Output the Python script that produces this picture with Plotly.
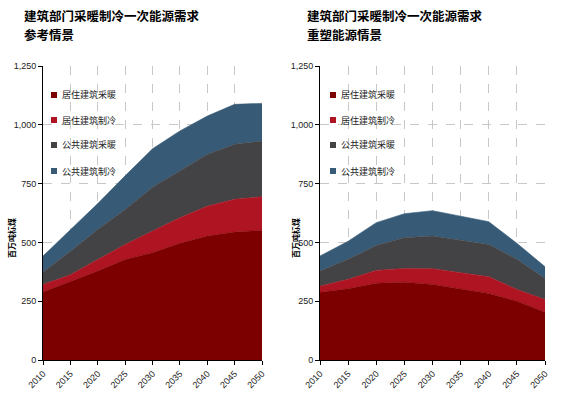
import plotly.graph_objects as go

years = [2010, 2015, 2020, 2025, 2030, 2035, 2040, 2045, 2050]
series_names = ["居住建筑采暖", "居住建筑制冷", "公共建筑采暖", "公共建筑制冷"]
colors = ["#7D0000", "#AE1421", "#434345", "#375A76"]

# 参考情景
ref_res_heat = [289, 332, 378, 427, 456, 496, 527, 544, 551]
ref_res_cool = [32, 30, 49, 64, 92, 109, 127, 139, 143]
ref_pub_heat = [52, 100, 128, 149, 187, 198, 220, 234, 237]
ref_pub_cool = [69, 90, 110, 143, 163, 171, 163, 170, 160]

# 重塑能源情景
re_res_heat = [288, 303, 326, 331, 321, 303, 283, 250, 203]
re_res_cool = [26, 40, 55, 58, 67, 68, 71, 50, 54]
re_pub_heat = [64, 85, 106, 131, 139, 139, 137, 128, 89]
re_pub_cool = [64, 77, 97, 102, 108, 102, 97, 68, 51]

y_ticks = [0, 250, 500, 750, 1000, 1250]
title_main = "建筑部门采暖制冷一次能源需求"
subtitles = ["参考情景", "重塑能源情景"]
y_title = "百万吨标煤"

cjk = "Noto Sans CJK SC"
latin = "Liberation Sans, Arial"

W, H = 578, 395

fig = go.Figure()

panels = [
    ([ref_res_heat, ref_res_cool, ref_pub_heat, ref_pub_cool], "x", "y", "a"),
    ([re_res_heat, re_res_cool, re_pub_heat, re_pub_cool], "x2", "y2", "b"),
]
for data, xa, ya, sg in panels:
    for i, (name, vals) in enumerate(zip(series_names, data)):
        fig.add_trace(go.Scatter(
            x=years, y=vals, name=name, mode="lines",
            stackgroup=sg, fillcolor=colors[i],
            line=dict(width=0.6, color=colors[i]),
            xaxis=xa, yaxis=ya, showlegend=False,
            hoverinfo="x+y+name",
        ))

xdoms = [[43 / W, 262 / W], [320 / W, 545 / W]]
ydom = [(H - 360) / H, (H - 66) / H]

axis_common_x = dict(
    range=[2010, 2050], tickvals=years, tickangle=-45,
    showline=True, linecolor="#000000", linewidth=1,
    ticks="outside", ticklen=4, tickcolor="#000000",
    showgrid=True, gridcolor="#C8C8C8", griddash="dash", gridwidth=1,
    tickfont=dict(family=latin, size=9, color="#222222"),
    zeroline=False, automargin=False,
)
axis_common_y = dict(
    range=[0, 1250], tickvals=y_ticks, tickformat=",",
    showline=True, linecolor="#000000", linewidth=1,
    ticks="outside", ticklen=4, tickcolor="#000000",
    showgrid=True, gridcolor="#C8C8C8", griddash="dash", gridwidth=1,
    tickfont=dict(family=latin, size=9, color="#222222"),
    zeroline=False, automargin=False,
)

fig.update_layout(
    width=W, height=H,
    margin=dict(l=0, r=0, t=0, b=0, autoexpand=False),
    paper_bgcolor="white", plot_bgcolor="white",
    showlegend=False,
    xaxis=dict(domain=xdoms[0], anchor="y", **axis_common_x),
    yaxis=dict(domain=ydom, anchor="x", **axis_common_y),
    xaxis2=dict(domain=xdoms[1], anchor="y2", **axis_common_x),
    yaxis2=dict(domain=ydom, anchor="x2", **axis_common_y),
)

# titles
for tx, sub in zip([22, 305], subtitles):
    fig.add_annotation(text="<b>" + title_main + "</b>", xref="paper", yref="paper",
                       x=tx / W, y=1 - 16 / H, xanchor="left", yanchor="middle",
                       showarrow=False, align="left",
                       font=dict(family=cjk, size=12.5, color="#000000"))
    fig.add_annotation(text="<b>" + sub + "</b>", xref="paper", yref="paper",
                       x=tx / W, y=1 - 34 / H, xanchor="left", yanchor="middle",
                       showarrow=False, align="left",
                       font=dict(family=cjk, size=12.5, color="#000000"))

# y-axis titles
for ax_x in [11, 295]:
    fig.add_annotation(text="<b>" + y_title + "</b>", xref="paper", yref="paper",
                       x=ax_x / W, y=1 - 238 / H, xanchor="center", yanchor="middle",
                       textangle=-90, showarrow=False,
                       font=dict(family=cjk, size=8, color="#000000"))

# in-plot legends (square swatch + text)
legend_rows = [95, 120, 145, 171]
for sq_x in [51, 330]:
    for i, name in enumerate(series_names):
        cy = legend_rows[i]
        fig.add_shape(type="rect", xref="paper", yref="paper",
                      x0=sq_x / W, x1=(sq_x + 6) / W,
                      y0=1 - (cy + 3) / H, y1=1 - (cy - 3) / H,
                      fillcolor=colors[i], line=dict(width=0))
        fig.add_annotation(text=name, xref="paper", yref="paper",
                           x=(sq_x + 9) / W, y=1 - cy / H,
                           xanchor="left", yanchor="middle", showarrow=False,
                           font=dict(family=cjk, size=9, color="#222222"))

fig.write_html(
    "out.html",
    config={"displayModeBar": False},
    post_script="document.body.style.margin='0';document.body.style.padding='0';",
)
